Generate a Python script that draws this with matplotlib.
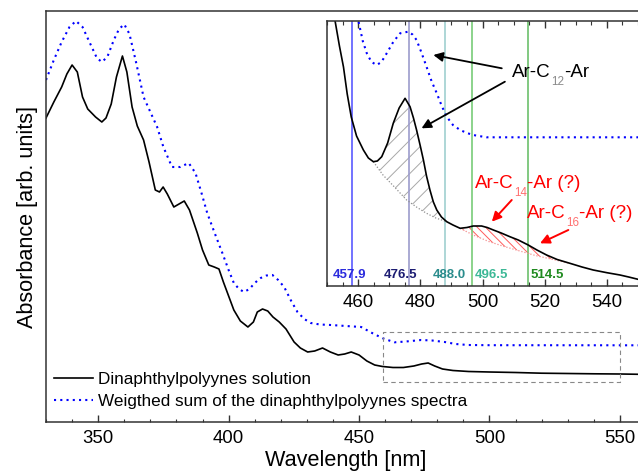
import matplotlib
matplotlib.use("Agg")
import matplotlib.pyplot as plt
from matplotlib.ticker import MultipleLocator
import numpy as np

plt.rcParams["font.family"] = ["Liberation Sans", "DejaVu Sans"]
plt.rcParams["hatch.linewidth"] = 0.7

# data (arbitrary absorbance units)
# ----------
sol_nm = [330, 333, 336, 338, 340, 342, 344, 346, 349, 351.4, 353, 355, 357, 359.3, 361, 363, 365,
          367.4, 369.5, 371.9, 373.5, 374.9, 376.5, 379, 381, 383, 385, 388, 390, 392.4, 394.5, 396.3,
          398, 400, 402, 404.5, 407.4, 409.5, 411, 413, 415, 417, 419.4, 422, 425.1, 427.5, 430.3, 433,
          436, 439, 442, 444.5, 447, 450, 453, 456, 459, 463, 467, 471, 474, 476.5, 479, 482, 486, 492,
          500, 510, 520, 530, 540, 550, 560]
sol_abs = [304, 320, 335, 348, 357, 350, 325, 313, 305, 300, 304, 318, 345, 366, 350, 315, 296,
           282, 260, 232, 230, 235, 228, 215, 218, 221, 212, 189, 172, 157, 155, 153,
           140, 126, 112, 101, 95, 100, 110, 113, 111, 105, 100, 93, 80, 74, 70, 71,
           74, 70, 67, 68, 70, 67, 61, 57, 55.5, 54.5, 54.5, 56, 58, 59, 56, 53, 51.5, 50.5,
           50, 49.5, 48.8, 48.5, 48.2, 48, 47.6]

sum_nm = [330, 333, 336, 339, 341.5, 344, 347, 349.5, 351.4, 353.5, 356, 358, 360, 362, 364.5, 367.4,
          370, 372.6, 375, 378.3, 381.5, 384.7, 387.3, 389.5, 391.8, 394.5, 397.6, 400, 402, 404,
          405.9, 408, 410, 412.3, 414.5, 416.8, 419, 421.3, 424, 426.4, 429, 431.5, 435, 439.2, 445,
          450.8, 455, 459.1, 463.6, 468, 473.8, 478, 482.8, 487, 491.8, 500, 560]
sum_abs = [342, 362, 380, 395, 401, 395, 378, 364, 360, 365, 382, 393, 397.7, 388, 360, 325,
           310, 295, 275, 255, 255, 259, 249, 230, 209, 190, 169, 152, 139, 133,
           130, 133, 139, 144, 146.5, 147, 142, 135, 121, 110, 103, 99, 97.5, 97, 96,
           95, 89, 83.7, 79.7, 80.5, 82, 81.5, 80, 78, 77, 76.8, 76.7]

# zoomed inset (own arbitrary scale)
ins_sol_nm = [451.5, 452.6, 454, 455.3, 456.5, 457.8, 459.5, 461.7, 463.3, 464.9, 466.2, 467.6, 469.5,
              471.3, 473.2, 475.1, 476.7, 477.8, 478.8, 480, 481, 482, 483.1, 484.2, 485.3, 486.8,
              488.5, 490.5, 492.8, 495, 497, 499.7, 501.5, 503.5, 506, 508.8, 511.5, 514.7, 517.5,
              520.6, 524, 528.1, 532, 535.6, 540, 544.2, 547, 550]
ins_sol_abs = [285, 265, 240, 219, 192, 169, 150, 136, 128, 124.3, 125, 129.3, 143,
               162.7, 178, 187.7, 179.3, 168, 156, 140, 126, 110, 96, 84, 76, 69,
               64.3, 61, 57.7, 58.5, 60, 60, 58.5, 56, 53, 49.3, 46, 41, 36,
               31, 26.5, 22.7, 19, 16, 13.3, 11, 9, 6.7]

ins_sum_nm = [459.5, 460.1, 461.5, 462.8, 464.3, 466, 467.5, 469.2, 471.3, 473.5, 476.1, 477.5, 478.8,
              480.3, 482, 483.6, 485.3, 486.9, 488.5, 490.5, 492.8, 495, 497, 501.3, 550]
ins_sum_abs = [270, 265, 245, 232.7, 224, 221, 224, 232.7, 244, 252.7, 254.3, 251.5, 246,
               234, 219.3, 205, 192.7, 180, 169.3, 161, 156, 153, 151, 148.7, 148.7]

# baselines under the C12 band and the C14/C16 bands
base12_nm = [464.9, 468, 472, 475.6, 479, 482, 485, 488.5]
base12_abs = [124.3, 111, 98, 86, 78.5, 72.7, 68, 64.3]
base14_nm = [492.8, 497, 502, 507, 512, 517, 522, 528.1]
base14_abs = [57.7, 51, 44.5, 39.5, 35, 30.5, 27, 22.7]

laser_lines = [457.9, 476.5, 488.0, 496.5, 514.5]
laser_line_colors = ["#5a5aff", "#9c9ccc", "#9fcfcf", "#78cc78", "#6cc06c"]
laser_label_x = [457.3, 473.5, 489.3, 502.8, 520.8]
laser_label_colors = ["#2b2bdd", "#1c1c72", "#2a8c8c", "#3cb896", "#1f8a1f"]

# figure
# ----------
fig = plt.figure(figsize=(6.38, 4.72), dpi=100)
W, H = 638, 472

ax = fig.add_axes([46 / W, (H - 422) / H, 600 / W, 411 / H])
ax.plot(sol_nm, sol_abs, color="black", lw=1.2)
ax.plot(sum_nm, sum_abs, color="blue", lw=1.5, ls=(0, (1, 2)))
ax.set_xlim(330, 560)
ax.set_ylim(0, 411)
ax.set_yticks([])
ax.xaxis.set_major_locator(MultipleLocator(50))
ax.xaxis.set_minor_locator(MultipleLocator(10))
ax.tick_params(axis="x", which="major", direction="in", length=5, width=1, labelsize=13.4, pad=6, color="#333333")
ax.tick_params(axis="x", which="minor", direction="in", length=2.5, width=0.8, color="#333333")
for s in ax.spines.values():
    s.set_color("#333333")
    s.set_linewidth(1.1)
ax.set_xlabel("Wavelength [nm]", fontsize=15.6, labelpad=2)
ax.set_ylabel("Absorbance [arb. units]", fontsize=15.6, labelpad=6)

# dashed box marking the zoomed region
ax.plot([459, 550, 550, 459, 459], [40.3, 40.3, 90.3, 90.3, 40.3], color="#888888", lw=0.8, ls=(0, (4, 3)))

leg = ax.legend(["Dinaphthylpolyynes solution", "Weigthed sum of the dinaphthylpolyynes spectra"],
                loc="upper left", bbox_to_anchor=(54 / W, (H - 372) / H), bbox_transform=fig.transFigure,
                frameon=False, fontsize=12.3, handlelength=2.3, handletextpad=0.3, labelspacing=0.42,
                borderpad=0, borderaxespad=0)

# inset
# ----------
axi = fig.add_axes([327 / W, (H - 286) / H, 311 / W, 265 / H])
axi.set_xlim(450, 550)
axi.set_ylim(0, 265)
axi.set_yticks([])
axi.xaxis.set_major_locator(MultipleLocator(20))
axi.xaxis.set_minor_locator(MultipleLocator(5))
axi.tick_params(axis="x", which="major", direction="in", length=5, width=1, top=True, labelsize=13.4, pad=6, color="#333333")
axi.tick_params(axis="x", which="minor", direction="in", length=3, width=0.8, top=True, color="#333333")
for s in axi.spines.values():
    s.set_color("#333333")
    s.set_linewidth(1.1)
axi.spines["right"].set_visible(False)

for x, c in zip(laser_lines, laser_line_colors):
    axi.axvline(x, color=c, lw=1.2)
for x, lab, c in zip(laser_label_x, laser_lines, laser_label_colors):
    axi.text(x, 5, f"{lab:.1f}", color=c, fontsize=9.5, fontweight="bold", ha="center", va="bottom")

# hatched areas between curve and baselines
sx = np.array(ins_sol_nm)
sy = np.array(ins_sol_abs)
m = (sx >= base12_nm[0]) & (sx <= base12_nm[-1])
axi.fill(np.r_[sx[m], base12_nm[::-1]], np.r_[sy[m], base12_abs[::-1]],
         facecolor="none", edgecolor="#a8a8a8", hatch="//", lw=0)
axi.plot(base12_nm, base12_abs, color="#909090", lw=0.9, ls=(0, (1, 1.5)))
m = (sx >= base14_nm[0]) & (sx <= base14_nm[-1])
axi.fill(np.r_[sx[m], base14_nm[::-1]], np.r_[sy[m], base14_abs[::-1]],
         facecolor="none", edgecolor="#ff5a5a", hatch="\\\\\\\\", lw=0)
axi.plot(base14_nm, base14_abs, color="#f49090", lw=0.9, ls=(0, (1, 1.5)))

axi.plot(ins_sum_nm, ins_sum_abs, color="blue", lw=1.5, ls=(0, (1, 2)))
axi.plot(ins_sol_nm, ins_sol_abs, color="black", lw=1.2)


def chem_label(a, x, y, n, suffix, color, subcolor, size):
    t = a.text(x, y, "Ar-C", color=color, fontsize=size, ha="left", va="baseline")
    sub = a.annotate(n, xy=(1, 0), xycoords=t, xytext=(0.3, -3), textcoords="offset points",
                     color=subcolor, fontsize=size * 0.62, ha="left", va="baseline")
    a.annotate(suffix, xy=(1, 0), xycoords=(sub, t), xytext=(0.3, 0), textcoords="offset points",
               color=color, fontsize=size, ha="left", va="bottom")


chem_label(axi, 509.4, 208.7, "12", "-Ar", "black", "#8a8a8a", 13.5)
chem_label(axi, 497.6, 98, "14", "-Ar (?)", "red", "#ff7070", 13.5)
chem_label(axi, 514.2, 68, "16", "-Ar (?)", "red", "#ff7070", 13.5)

arrow_k = dict(arrowstyle="-|>", color="black", lw=1.3, mutation_scale=14, shrinkA=0, shrinkB=0)
axi.annotate("", xy=(484.2, 231), xytext=(506.2, 217.7), arrowprops=arrow_k)
axi.annotate("", xy=(480.4, 157.7), xytext=(507.2, 204.3), arrowprops=arrow_k)
arrow_r = dict(arrowstyle="-|>", color="red", lw=1.4, mutation_scale=14, shrinkA=0, shrinkB=0)
axi.annotate("", xy=(503, 64.3), xytext=(509.4, 86), arrowprops=arrow_r)
axi.annotate("", xy=(518.5, 42.7), xytext=(527.6, 56), arrowprops=arrow_r)

fig.savefig("out.png", dpi=100)
